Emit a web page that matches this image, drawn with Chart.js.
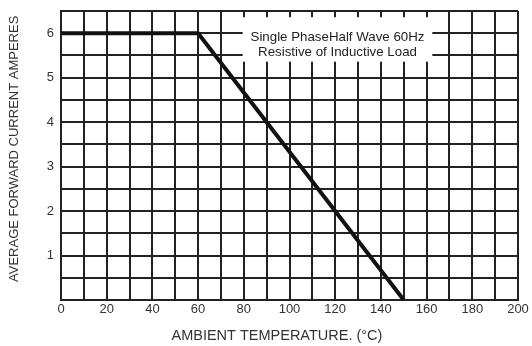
<!DOCTYPE html>
<html>
<head>
    <title>Derating Curve</title>
    <script src="https://cdn.jsdelivr.net/npm/chart.js"></script>
    <style>
        body { margin: 0; background: #fff; }
    </style>
</head>
<body>
    <div style="width: 532px; height: 346px">
        <canvas id="deratingChart"></canvas>
    </div>
    <script>
        // curve
        const temperatures = [0, 60, 150];
        const currents = [6, 6, 0];
        const noteLines = ['Single PhaseHalf Wave 60Hz', 'Resistive of Inductive Load'];
        const xTitle = 'AMBIENT TEMPERATURE. (°C)';
        const yTitle = 'AVERAGE FORWARD CURRENT AMPERES';

        const family = 'Liberation Sans, Arial, sans-serif';

        // white note box over the grid, plus the axis titles (placed as on the sheet)
        const notePlugin = {
            id: 'note',
            afterDatasetsDraw(chart) {
                const ctx = chart.ctx;
                const x = chart.scales.x, y = chart.scales.y;
                const left = x.getPixelForValue(79.5), right = x.getPixelForValue(162.5);
                const top = y.getPixelForValue(6.36), bottom = y.getPixelForValue(5.36);
                ctx.save();
                ctx.fillStyle = '#fff';
                ctx.fillRect(left, top, right - left, bottom - top);
                ctx.fillStyle = '#222';
                ctx.font = '13.3px ' + family;
                ctx.textAlign = 'center';
                ctx.textBaseline = 'middle';
                const cx = (left + right) / 2;
                ctx.fillText(noteLines[0], cx, top + 20);
                ctx.fillText(noteLines[1], cx, top + 35);

                ctx.fillStyle = '#333';
                ctx.font = '14.5px ' + family;
                ctx.fillText(xTitle, x.getPixelForValue(94.5), 336);
                ctx.translate(14, y.getPixelForValue(3.4));
                ctx.rotate(-Math.PI / 2);
                ctx.font = '13px ' + family;
                ctx.fillText(yTitle, 0, 0);
                ctx.restore();
            }
        };

        const ctx = document.getElementById('deratingChart').getContext('2d');
        new Chart(ctx, {
            type: 'line',
            data: {
                datasets: [{
                    data: temperatures.map((t, i) => ({ x: t, y: currents[i] })),
                    borderColor: '#111',
                    borderWidth: 4,
                    pointRadius: 0,
                    tension: 0
                }]
            },
            options: {
                responsive: true,
                maintainAspectRatio: false,
                animation: false,
                layout: { padding: { top: 11, right: 14, left: 0, bottom: 0 } },
                plugins: { legend: { display: false }, tooltip: { enabled: false } },
                scales: {
                    x: {
                        type: 'linear',
                        min: 0,
                        max: 200,
                        ticks: {
                            stepSize: 10,
                            autoSkip: false,
                            maxRotation: 0,
                            color: '#333',
                            font: { family: family, size: 13 },
                            padding: 2,
                            callback: v => v % 20 === 0 ? v : ''
                        },
                        grid: { color: '#222', lineWidth: 2, drawTicks: false },
                        border: { color: '#222', width: 2 },
                        afterFit: s => { s.height = 46; s.paddingLeft = 0; s.paddingRight = 0; }
                    },
                    y: {
                        min: 0,
                        max: 6.5,
                        ticks: {
                            stepSize: 0.5,
                            autoSkip: false,
                            color: '#333',
                            font: { family: family, size: 13 },
                            padding: 7,
                            callback: v => (Number.isInteger(v) && v > 0) ? v : ''
                        },
                        grid: { color: '#222', lineWidth: 2, drawTicks: false },
                        border: { color: '#222', width: 2 },
                        afterFit: s => { s.width = 61; s.paddingTop = 0; s.paddingBottom = 0; }
                    }
                }
            },
            plugins: [notePlugin]
        });
    </script>
</body>
</html>
